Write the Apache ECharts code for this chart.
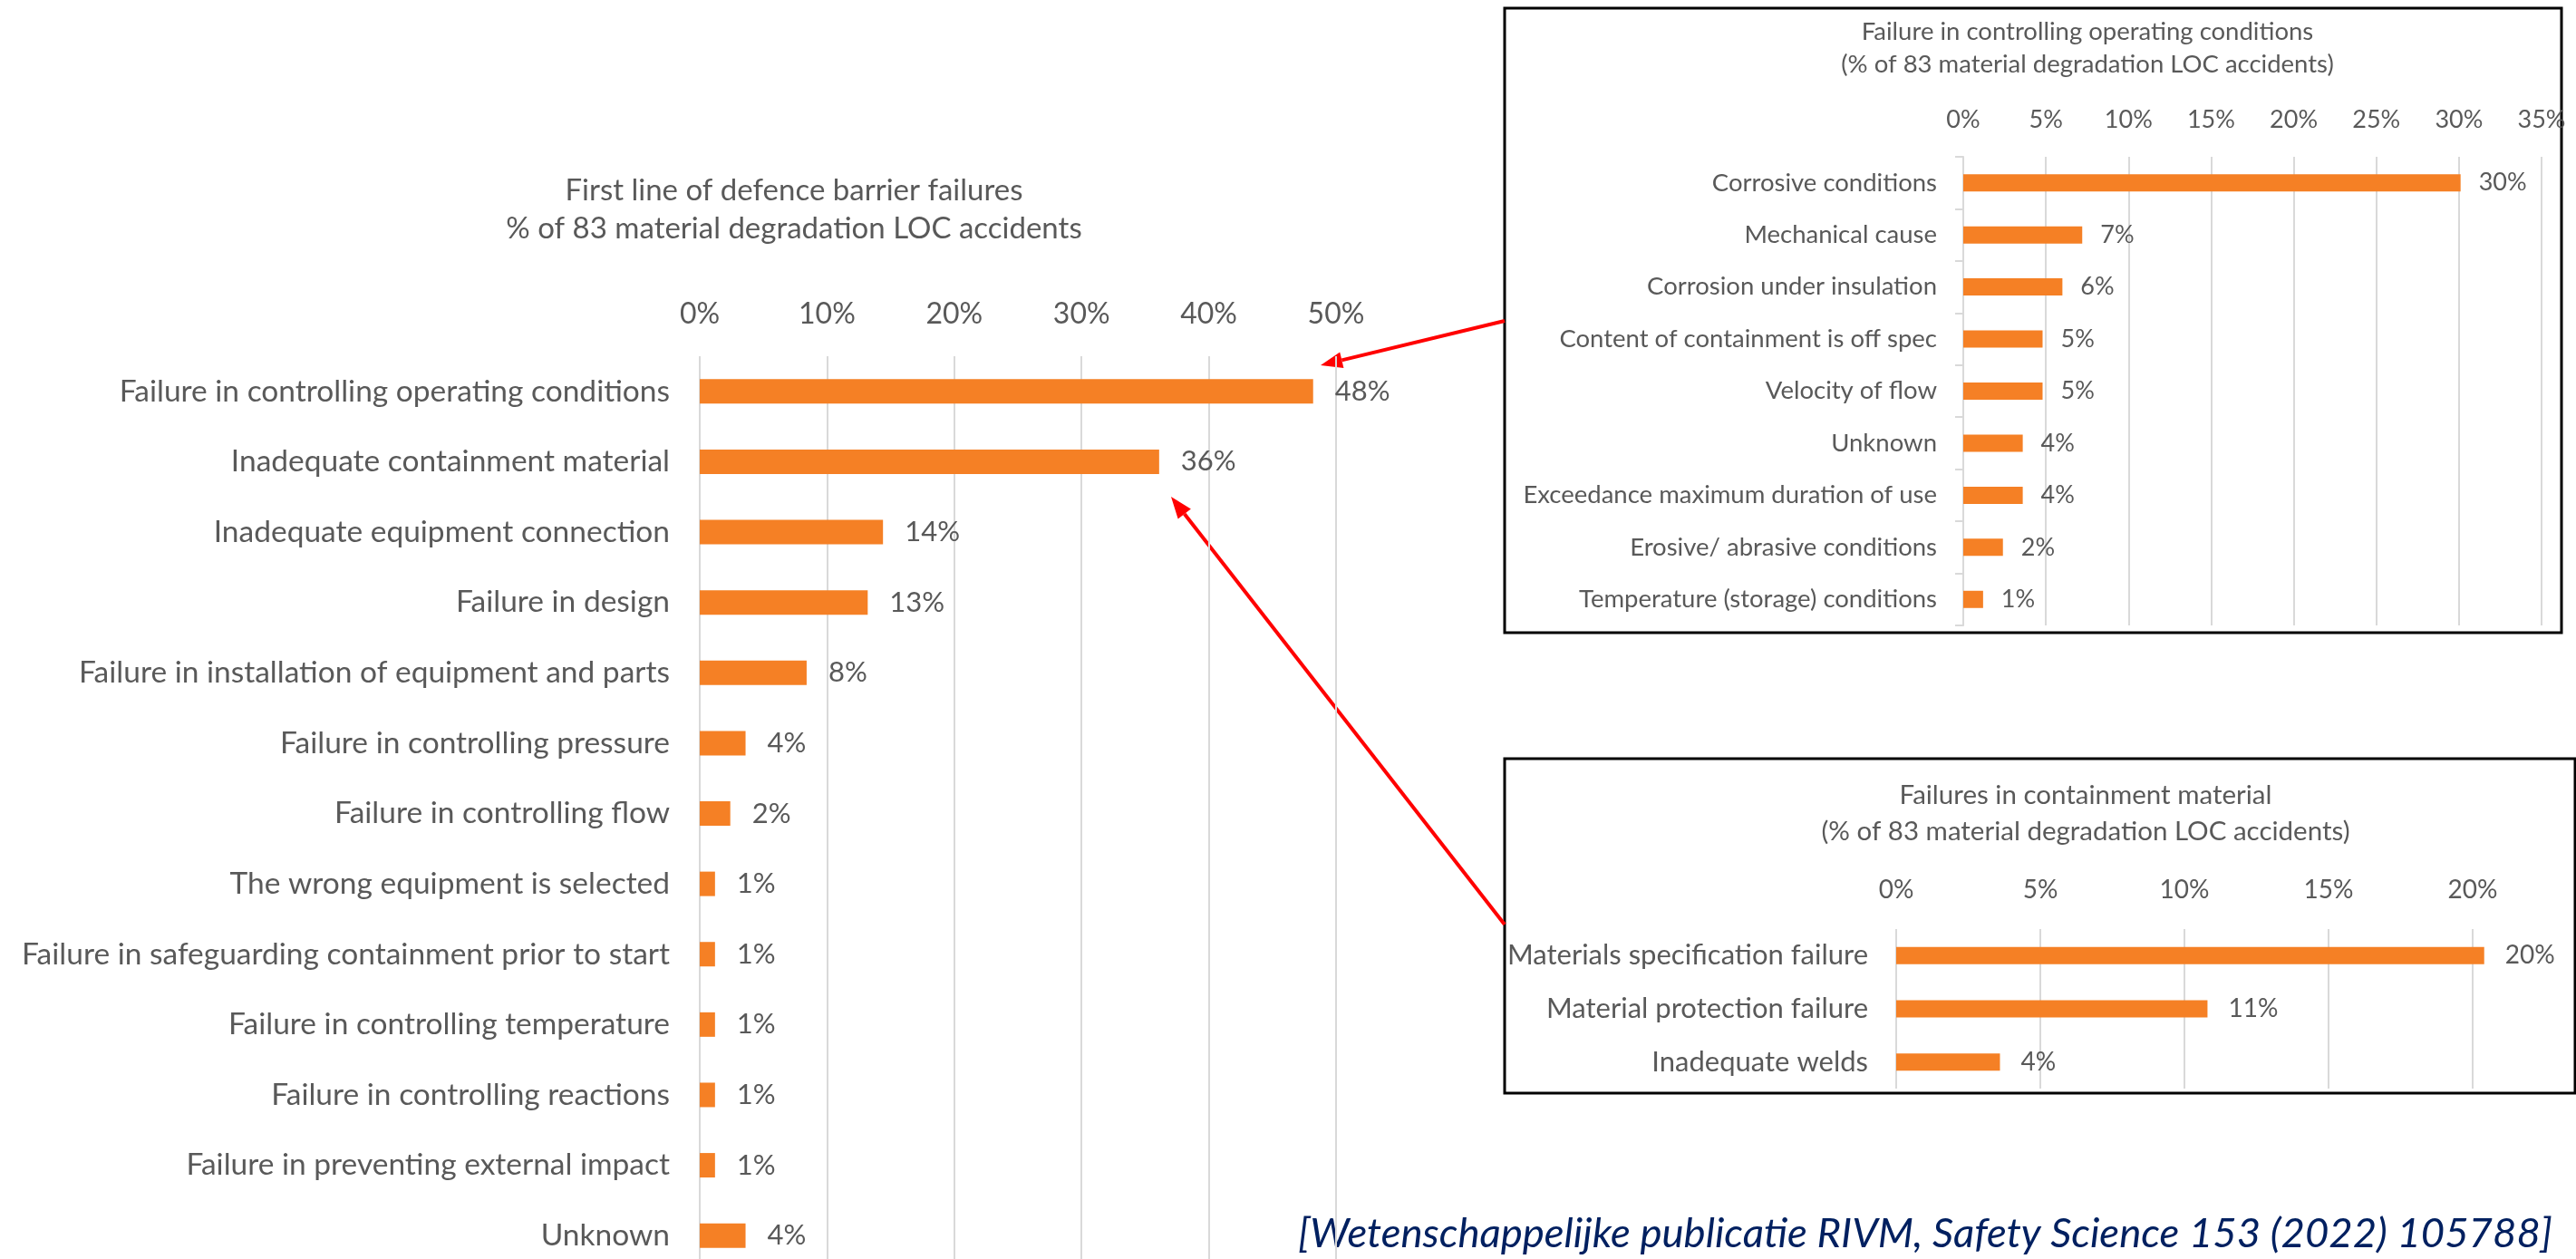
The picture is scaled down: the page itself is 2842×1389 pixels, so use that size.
<!DOCTYPE html>
<html>
<head>
<meta charset="utf-8">
<title>Material degradation LOC accidents</title>
<script src="https://cdn.jsdelivr.net/npm/echarts@6/dist/echarts.min.js"></script>
<style>
  html, body { margin: 0; padding: 0; background: #fff; }
  #chart { width: 2842px; height: 1389px; }
</style>
</head>
<body>
<div id="chart"></div>
<script>
// first line of defence barrier failures (% of 83 accidents)
const mainCategories = [
  'Failure in controlling operating conditions',
  'Inadequate containment material',
  'Inadequate equipment connection',
  'Failure in design',
  'Failure in installation of equipment and parts',
  'Failure in controlling pressure',
  'Failure in controlling flow',
  'The wrong equipment is selected',
  'Failure in safeguarding containment prior to start',
  'Failure in controlling temperature',
  'Failure in controlling reactions',
  'Failure in preventing external impact',
  'Unknown'
]
const mainValues = [48.2, 36.1, 14.4, 13.2, 8.4, 3.6, 2.4, 1.2, 1.2, 1.2, 1.2, 1.2, 3.6]

// failure in controlling operating conditions
const opCategories = [
  'Corrosive conditions',
  'Mechanical cause',
  'Corrosion under insulation',
  'Content of containment is off spec',
  'Velocity of flow',
  'Unknown',
  'Exceedance maximum duration of use',
  'Erosive/ abrasive conditions',
  'Temperature (storage) conditions'
]
const opValues = [30.1, 7.2, 6.0, 4.8, 4.8, 3.6, 3.6, 2.4, 1.2]

// failures in containment material
const matCategories = [
  'Materials specification failure',
  'Material protection failure',
  'Inadequate welds'
]
const matValues = [20.4, 10.8, 3.6]

const FONT = 'Lato'
const GREY = '#595959'
const ORANGE = '#F58025'
const GRID = '#d9d9d9'

const pct = (p) => Math.round(p.value) + '%'

const valueAxis = (gridIndex, max, fontSize, margin) => ({
  type: 'value',
  gridIndex,
  position: 'top',
  min: 0,
  max,
  interval: 5,
  axisLine: { show: false },
  axisTick: { show: false },
  axisLabel: { formatter: '{value}%', color: GREY, fontFamily: FONT, fontSize, margin },
  splitLine: { lineStyle: { color: GRID, width: 2 } }
})

const catAxis = (gridIndex, data, fontSize, margin, ticks) => ({
  type: 'category',
  gridIndex,
  inverse: true,
  data,
  axisLine: { show: ticks, lineStyle: { color: GRID, width: 2 } },
  axisTick: { show: ticks, length: 9, lineStyle: { color: GRID, width: 2 } },
  axisLabel: { color: GREY, fontFamily: FONT, fontSize, margin }
})

const barSeries = (idx, data, barWidth, fontSize, distance) => ({
  type: 'bar',
  xAxisIndex: idx,
  yAxisIndex: idx,
  data,
  barWidth,
  itemStyle: { color: ORANGE },
  label: { show: true, position: 'right', distance, color: GREY, fontFamily: FONT, fontSize, formatter: pct },
  silent: true
})

// little red arrow: shaft + head
const arrow = (x1, y1, x2, y2) => {
  const a = Math.atan2(y2 - y1, x2 - x1)
  const len = 24, half = 9
  const bx = x2 - len * Math.cos(a), by = y2 - len * Math.sin(a)
  return [
    { type: 'line', shape: { x1, y1, x2: bx, y2: by }, style: { stroke: '#ff0000', lineWidth: 4 } },
    { type: 'polygon', shape: { points: [
      [x2, y2],
      [bx + half * Math.sin(a), by - half * Math.cos(a)],
      [bx - half * Math.sin(a), by + half * Math.cos(a)]
    ] }, style: { fill: '#ff0000' } }
  ]
}

const chart = echarts.init(document.getElementById('chart'))

chart.setOption({
  animation: false,
  title: [
    {
      text: 'First line of defence barrier failures\n% of 83 material degradation LOC accidents',
      left: 876, top: 189, textAlign: 'center', padding: 0,
      textStyle: { color: GREY, fontFamily: FONT, fontWeight: 'normal', fontSize: 33, lineHeight: 42 }
    },
    {
      text: 'Failure in controlling operating conditions\n(% of 83 material degradation LOC accidents)',
      left: 2303, top: 17, textAlign: 'center', padding: 0,
      textStyle: { color: GREY, fontFamily: FONT, fontWeight: 'normal', fontSize: 27.5, lineHeight: 36 }
    },
    {
      text: 'Failures in containment material\n(% of 83 material degradation LOC accidents)',
      left: 2301, top: 857, textAlign: 'center', padding: 0,
      textStyle: { color: GREY, fontFamily: FONT, fontWeight: 'normal', fontSize: 29.5, lineHeight: 40 }
    }
  ],
  grid: [
    { left: 772, top: 393, width: 702, height: 1009, outerBoundsMode: 'none' },
    { left: 2166, top: 173, width: 638, height: 517, outerBoundsMode: 'none' },
    { left: 2092, top: 1025, width: 795, height: 176, outerBoundsMode: 'none' }
  ],
  xAxis: [
    Object.assign(valueAxis(0, 50, 32, 30), { interval: 10 }),
    valueAxis(1, 35, 27, 27),
    valueAxis(2, 25, 28, 29)
  ],
  yAxis: [
    catAxis(0, mainCategories, 33.5, 33, false),
    catAxis(1, opCategories, 27.5, 29, true),
    catAxis(2, matCategories, 31, 31, false)
  ],
  series: [
    barSeries(0, mainValues, 27, 31, 24),
    barSeries(1, opValues, 19, 27, 20),
    barSeries(2, matValues, 19, 28, 23)
  ],
  graphic: [
    { type: 'rect', shape: { x: 1660, y: 9, width: 1166, height: 689 }, style: { fill: 'none', stroke: '#000', lineWidth: 3 } },
    { type: 'rect', shape: { x: 1660, y: 837, width: 1181, height: 369 }, style: { fill: 'none', stroke: '#000', lineWidth: 3 } },
    ...arrow(1660, 354, 1457, 403),
    ...arrow(1660, 1020, 1292, 548),
    {
      type: 'text', x: 2816, y: 1361,
      style: {
        text: '[Wetenschappelijke publicatie RIVM, Safety Science 153 (2022) 105788]',
        font: 'italic 45.5px Lato', fill: '#002060', align: 'right', verticalAlign: 'middle'
      }
    }
  ]
})

window.addEventListener('resize', () => chart.resize())
</script>
</body>
</html>
